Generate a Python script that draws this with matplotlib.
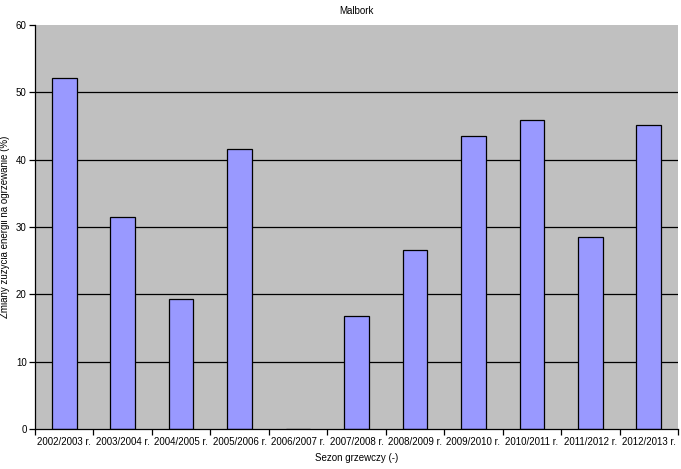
import numpy as np
import matplotlib
matplotlib.use('Agg')
import matplotlib.pyplot as plt

seasons = ['2002/2003 r.', '2003/2004 r.', '2004/2005 r.', '2005/2006 r.', '2006/2007 r.',
           '2007/2008 r.', '2008/2009 r.', '2009/2010 r.', '2010/2011 r.', '2011/2012 r.',
           '2012/2013 r.']
changes = [52.1, 31.5, 19.3, 41.6, 0.0, 16.8, 26.6, 43.5, 45.9, 28.5, 45.2]
yticks = [0, 10, 20, 30, 40, 50, 60]

plt.rcParams['font.family'] = ['Liberation Sans', 'DejaVu Sans']
plt.rcParams['font.size'] = 7

fig = plt.figure(figsize=(6.81, 4.69), dpi=100)
ax = fig.add_axes([35 / 681, 40 / 469, 643 / 681, 404 / 469])
ax.set_facecolor('#C0C0C0')

x = np.arange(len(seasons))
for v in yticks[1:-1]:
    ax.axhline(v, color='black', linewidth=0.9, zorder=1)
ax.bar(x, changes, width=0.42, color='#9999FF', edgecolor='black', linewidth=0.9, zorder=2)

ax.set_xlim(-0.5, len(seasons) - 0.5)
ax.set_ylim(0, 60)
ax.set_yticks(yticks)
ax.set_xticks(x)
ax.set_xticklabels(seasons)
ax.set_xticks(np.arange(len(seasons) + 1) - 0.5, minor=True)
ax.tick_params(axis='x', which='major', length=0, pad=6)
ax.tick_params(axis='x', which='minor', length=4, direction='out', width=0.9)
ax.tick_params(axis='y', length=4, direction='out', width=0.9, pad=2)

for side in ['top', 'right']:
    ax.spines[side].set_visible(False)
for side in ['left', 'bottom']:
    ax.spines[side].set_linewidth(0.9)

ax.set_title('Malbork', fontsize=7, pad=8)
ax.set_xlabel('Sezon grzewczy (-)', labelpad=4)
ax.set_ylabel('Zmiany zużycia energii na ogrzewanie (%)', labelpad=4)

fig.savefig('out.png', dpi=100, facecolor='white')
